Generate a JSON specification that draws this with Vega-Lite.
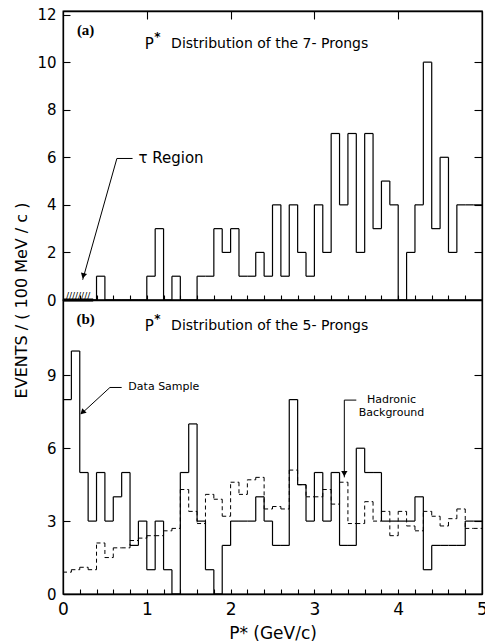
{
  "$schema": "https://vega.github.io/schema/vega-lite/v6.json",
  "padding": {"left": 12, "top": 6, "right": 4, "bottom": 0},
  "background": "white",
  "spacing": 0,
  "bounds": "flush",
  "config": {
    "view": {"stroke": "black", "strokeWidth": 1.3},
    "font": "DejaVu Sans",
    "axis": {"domainColor": "black", "tickColor": "black", "labelColor": "black", "titleColor": "black", "grid": false, "labelFont": "DejaVu Sans", "titleFont": "DejaVu Sans", "titleFontWeight": "normal", "domainWidth": 1.3, "tickWidth": 1.1},
    "rule": {"color": "black", "strokeWidth": 1.2},
    "text": {"color": "black", "font": "DejaVu Sans"}
  },
  "datasets": {
    "bins": [
      {"lo": 0.0, "hi": 0.1, "a": 0, "d": 8, "h": 0.9},
      {"lo": 0.1, "hi": 0.2, "a": 0, "d": 10, "h": 1.0},
      {"lo": 0.2, "hi": 0.3, "a": 0, "d": 5, "h": 1.1},
      {"lo": 0.3, "hi": 0.4, "a": 0, "d": 3, "h": 1.0},
      {"lo": 0.4, "hi": 0.5, "a": 1, "d": 5, "h": 2.1},
      {"lo": 0.5, "hi": 0.6, "a": 0, "d": 3, "h": 1.5},
      {"lo": 0.6, "hi": 0.7, "a": 0, "d": 4, "h": 1.9},
      {"lo": 0.7, "hi": 0.8, "a": 0, "d": 5, "h": 1.9},
      {"lo": 0.8, "hi": 0.9, "a": 0, "d": 2, "h": 2.2},
      {"lo": 0.9, "hi": 1.0, "a": 0, "d": 3, "h": 2.3},
      {"lo": 1.0, "hi": 1.1, "a": 1, "d": 1, "h": 2.4},
      {"lo": 1.1, "hi": 1.2, "a": 3, "d": 3, "h": 2.4},
      {"lo": 1.2, "hi": 1.3, "a": 0, "d": 1, "h": 2.6},
      {"lo": 1.3, "hi": 1.4, "a": 1, "d": 0, "h": 2.7},
      {"lo": 1.4, "hi": 1.5, "a": 0, "d": 5, "h": 4.3},
      {"lo": 1.5, "hi": 1.6, "a": 0, "d": 7, "h": 3.4},
      {"lo": 1.6, "hi": 1.7, "a": 1, "d": 3, "h": 2.9},
      {"lo": 1.7, "hi": 1.8, "a": 1, "d": 1, "h": 4.1},
      {"lo": 1.8, "hi": 1.9, "a": 3, "d": 0, "h": 3.9},
      {"lo": 1.9, "hi": 2.0, "a": 2, "d": 2, "h": 3.2},
      {"lo": 2.0, "hi": 2.1, "a": 3, "d": 3, "h": 4.6},
      {"lo": 2.1, "hi": 2.2, "a": 1, "d": 3, "h": 4.1},
      {"lo": 2.2, "hi": 2.3, "a": 1, "d": 3, "h": 4.7},
      {"lo": 2.3, "hi": 2.4, "a": 2, "d": 4, "h": 4.8},
      {"lo": 2.4, "hi": 2.5, "a": 1, "d": 3, "h": 3.5},
      {"lo": 2.5, "hi": 2.6, "a": 4, "d": 2, "h": 3.6},
      {"lo": 2.6, "hi": 2.7, "a": 1, "d": 2, "h": 3.5},
      {"lo": 2.7, "hi": 2.8, "a": 4, "d": 8, "h": 5.1},
      {"lo": 2.8, "hi": 2.9, "a": 2, "d": 4.5, "h": 4.5},
      {"lo": 2.9, "hi": 3.0, "a": 1, "d": 3, "h": 4.0},
      {"lo": 3.0, "hi": 3.1, "a": 4, "d": 5, "h": 4.0},
      {"lo": 3.1, "hi": 3.2, "a": 2, "d": 3, "h": 4.3},
      {"lo": 3.2, "hi": 3.3, "a": 7, "d": 5, "h": 3.7},
      {"lo": 3.3, "hi": 3.4, "a": 4, "d": 2, "h": 4.6},
      {"lo": 3.4, "hi": 3.5, "a": 7, "d": 2, "h": 2.9},
      {"lo": 3.5, "hi": 3.6, "a": 2, "d": 6, "h": 2.9},
      {"lo": 3.6, "hi": 3.7, "a": 7, "d": 5, "h": 3.8},
      {"lo": 3.7, "hi": 3.8, "a": 3, "d": 5, "h": 3.0},
      {"lo": 3.8, "hi": 3.9, "a": 5, "d": 3, "h": 3.4},
      {"lo": 3.9, "hi": 4.0, "a": 4, "d": 3, "h": 2.4},
      {"lo": 4.0, "hi": 4.1, "a": 0, "d": 3, "h": 3.4},
      {"lo": 4.1, "hi": 4.2, "a": 2, "d": 3, "h": 2.8},
      {"lo": 4.2, "hi": 4.3, "a": 4, "d": 4, "h": 2.6},
      {"lo": 4.3, "hi": 4.4, "a": 10, "d": 1, "h": 3.4},
      {"lo": 4.4, "hi": 4.5, "a": 3, "d": 2, "h": 3.2},
      {"lo": 4.5, "hi": 4.6, "a": 6, "d": 2, "h": 2.8},
      {"lo": 4.6, "hi": 4.7, "a": 2, "d": 2, "h": 3.1},
      {"lo": 4.7, "hi": 4.8, "a": 4, "d": 2, "h": 3.5},
      {"lo": 4.8, "hi": 4.9, "a": 4, "d": 3, "h": 2.7},
      {"lo": 4.9, "hi": 5.0, "a": 4, "d": 3, "h": 2.7}
    ]
  },
  "vconcat": [
    {
      "width": 419,
      "height": 289,
      "data": {"name": "bins"},
      "transform": [{"window": [{"op": "lead", "field": "a", "as": "an"}], "sort": [{"field": "lo"}]}],
      "resolve": {"axis": {"x": "independent", "y": "independent"}},
      "layer": [
        {
          "mark": {"type": "rule", "strokeWidth": 1.2},
          "encoding": {
            "x": {"field": "lo", "type": "quantitative", "scale": {"domain": [0, 5], "nice": false},
              "axis": {"orient": "bottom", "values": [0.2,0.4,0.6,0.8,1,1.2,1.4,1.6,1.8,2,2.2,2.4,2.6,2.8,3,3.2,3.4,3.6,3.8,4,4.2,4.4,4.6,4.8], "labels": false, "tickSize": -5, "title": null}},
            "x2": {"field": "hi"},
            "y": {"field": "a", "type": "quantitative", "scale": {"domain": [0, 12.15], "nice": false},
              "axis": {"orient": "left", "values": [0, 2, 4, 6, 8, 10, 12], "tickSize": -7, "labelPadding": 14, "labelFontSize": 15, "title": "EVENTS / ( 100 MeV / c )", "titleFontSize": 16, "titleX": -42, "titleY": 289, "titleAngle": 270, "titleAlign": "center", "titleBaseline": "middle"}}
          }
        },
        {
          "transform": [{"filter": "datum.an != null"}],
          "mark": {"type": "rule", "strokeWidth": 1.2},
          "encoding": {
            "x": {"field": "hi", "type": "quantitative", "axis": {"orient": "top", "values": [1, 2, 3, 4], "labels": false, "tickSize": -8, "title": null}},
            "y": {"field": "a", "type": "quantitative", "axis": {"orient": "right", "values": [2, 4, 6, 8, 10], "labels": false, "tickSize": -8, "title": null}},
            "y2": {"field": "an"}
          }
        },
        {
          "data": {"values": [{}]},
          "mark": {"type": "rule", "strokeWidth": 3},
          "encoding": {
            "x": {"datum": 0, "type": "quantitative", "axis": null},
            "x2": {"datum": 0.36},
            "y": {"datum": 0, "type": "quantitative", "axis": null}
          }
        },
        {
          "data": {"values": [{}]},
          "mark": {"type": "text", "text": "////////", "fontSize": 9, "baseline": "bottom", "align": "center", "dy": 1},
          "encoding": {
            "x": {"datum": 0.18, "type": "quantitative", "axis": null},
            "y": {"datum": 0, "type": "quantitative", "axis": null}
          }
        },
        {
          "data": {"values": [{}]},
          "mark": {"type": "text", "text": "(a)", "font": "Liberation Serif", "fontWeight": "bold", "fontSize": 15, "align": "center", "baseline": "middle"},
          "encoding": {
            "x": {"datum": 0.27, "type": "quantitative", "axis": null},
            "y": {"datum": 11.35, "type": "quantitative", "axis": null}
          }
        },
        {
          "data": {"values": [{}]},
          "mark": {"type": "text", "text": "P", "fontSize": 15, "align": "left", "baseline": "middle"},
          "encoding": {
            "x": {"datum": 0.976, "type": "quantitative", "axis": null},
            "y": {"datum": 10.76, "type": "quantitative", "axis": null}
          }
        },
        {
          "data": {"values": [{}]},
          "mark": {"type": "text", "text": "*", "fontSize": 12, "fontWeight": "bold", "align": "left", "baseline": "middle", "dy": -7},
          "encoding": {
            "x": {"datum": 1.09, "type": "quantitative", "axis": null},
            "y": {"datum": 10.76, "type": "quantitative", "axis": null}
          }
        },
        {
          "data": {"values": [{}]},
          "mark": {"type": "text", "text": "Distribution of the 7- Prongs", "fontSize": 14, "align": "left", "baseline": "middle"},
          "encoding": {
            "x": {"datum": 1.29, "type": "quantitative", "axis": null},
            "y": {"datum": 10.76, "type": "quantitative", "axis": null}
          }
        },
        {
          "data": {"values": [{}]},
          "mark": {"type": "text", "text": "τ Region", "fontSize": 15, "align": "left", "baseline": "middle"},
          "encoding": {
            "x": {"datum": 0.9, "type": "quantitative", "axis": null},
            "y": {"datum": 5.95, "type": "quantitative", "axis": null}
          }
        },
        {
          "data": {"values": [{}]},
          "mark": {"type": "rule", "strokeWidth": 1},
          "encoding": {
            "x": {"datum": 0.643, "type": "quantitative", "axis": null},
            "x2": {"datum": 0.83},
            "y": {"datum": 5.95, "type": "quantitative", "axis": null}
          }
        },
        {
          "data": {"values": [{}]},
          "mark": {"type": "rule", "strokeWidth": 1},
          "encoding": {
            "x": {"datum": 0.643, "type": "quantitative", "axis": null},
            "x2": {"datum": 0.235},
            "y": {"datum": 5.95, "type": "quantitative", "axis": null},
            "y2": {"datum": 0.85}
          }
        },
        {
          "data": {"values": [{}]},
          "mark": {"type": "point", "shape": "triangle", "filled": true, "color": "black", "size": 40, "opacity": 1, "angle": 195},
          "encoding": {
            "x": {"datum": 0.245, "type": "quantitative", "axis": null},
            "y": {"datum": 1.05, "type": "quantitative", "axis": null}
          }
        }
      ]
    },
    {
      "width": 419,
      "height": 294,
      "data": {"name": "bins"},
      "transform": [
        {"window": [{"op": "lead", "field": "d", "as": "dn"}, {"op": "lead", "field": "h", "as": "hn"}], "sort": [{"field": "lo"}]}
      ],
      "resolve": {"axis": {"x": "independent", "y": "independent"}},
      "layer": [
        {
          "mark": {"type": "rule", "strokeWidth": 1.2},
          "encoding": {
            "x": {"field": "lo", "type": "quantitative", "scale": {"domain": [0, 5], "nice": false},
              "axis": {"orient": "bottom", "values": [0,0.2,0.4,0.6,0.8,1,1.2,1.4,1.6,1.8,2,2.2,2.4,2.6,2.8,3,3.2,3.4,3.6,3.8,4,4.2,4.4,4.6,4.8,5], "labelExpr": "datum.value == round(datum.value) ? format(datum.value, 'd') : ''", "tickSize": -5, "labelPadding": 12, "labelFontSize": 17, "labelFlush": false, "labelOverlap": false, "title": "P* (GeV/c)", "titleFontSize": 17, "titleY": 44, "titleBaseline": "alphabetic"}},
            "x2": {"field": "hi"},
            "y": {"field": "d", "type": "quantitative", "scale": {"domain": [0, 12.1], "nice": false},
              "axis": {"orient": "left", "values": [0, 3, 6, 9], "tickSize": -7, "labelPadding": 14, "labelFontSize": 15, "title": null}}
          }
        },
        {
          "transform": [{"filter": "datum.dn != null"}],
          "mark": {"type": "rule", "strokeWidth": 1.2},
          "encoding": {
            "x": {"field": "hi", "type": "quantitative", "axis": null},
            "y": {"field": "d", "type": "quantitative", "axis": {"orient": "right", "values": [3, 6, 9], "labels": false, "tickSize": -8, "title": null}},
            "y2": {"field": "dn"}
          }
        },
        {
          "mark": {"type": "rule", "strokeWidth": 1, "strokeDash": [4, 3]},
          "encoding": {
            "x": {"field": "lo", "type": "quantitative", "axis": null},
            "x2": {"field": "hi"},
            "y": {"field": "h", "type": "quantitative", "axis": null}
          }
        },
        {
          "transform": [{"filter": "datum.hn != null"}],
          "mark": {"type": "rule", "strokeWidth": 1, "strokeDash": [4, 3]},
          "encoding": {
            "x": {"field": "hi", "type": "quantitative", "axis": null},
            "y": {"field": "h", "type": "quantitative", "axis": null},
            "y2": {"field": "hn"}
          }
        },
        {
          "data": {"values": [{}]},
          "mark": {"type": "text", "text": "(b)", "font": "Liberation Serif", "fontWeight": "bold", "fontSize": 15, "align": "center", "baseline": "middle"},
          "encoding": {
            "x": {"datum": 0.27, "type": "quantitative", "axis": null},
            "y": {"datum": 11.3, "type": "quantitative", "axis": null}
          }
        },
        {
          "data": {"values": [{}]},
          "mark": {"type": "text", "text": "P", "fontSize": 15, "align": "left", "baseline": "middle"},
          "encoding": {
            "x": {"datum": 0.976, "type": "quantitative", "axis": null},
            "y": {"datum": 11.05, "type": "quantitative", "axis": null}
          }
        },
        {
          "data": {"values": [{}]},
          "mark": {"type": "text", "text": "*", "fontSize": 12, "fontWeight": "bold", "align": "left", "baseline": "middle", "dy": -7},
          "encoding": {
            "x": {"datum": 1.09, "type": "quantitative", "axis": null},
            "y": {"datum": 11.05, "type": "quantitative", "axis": null}
          }
        },
        {
          "data": {"values": [{}]},
          "mark": {"type": "text", "text": "Distribution of the 5- Prongs", "fontSize": 14, "align": "left", "baseline": "middle"},
          "encoding": {
            "x": {"datum": 1.29, "type": "quantitative", "axis": null},
            "y": {"datum": 11.05, "type": "quantitative", "axis": null}
          }
        },
        {
          "data": {"values": [{}]},
          "mark": {"type": "text", "text": "Data  Sample", "fontSize": 11, "align": "left", "baseline": "middle"},
          "encoding": {
            "x": {"datum": 0.78, "type": "quantitative", "axis": null},
            "y": {"datum": 8.5, "type": "quantitative", "axis": null}
          }
        },
        {
          "data": {"values": [{}]},
          "mark": {"type": "text", "text": "Hadronic", "fontSize": 11, "align": "center", "baseline": "middle"},
          "encoding": {
            "x": {"datum": 3.92, "type": "quantitative", "axis": null},
            "y": {"datum": 7.98, "type": "quantitative", "axis": null}
          }
        },
        {
          "data": {"values": [{}]},
          "mark": {"type": "text", "text": "Background", "fontSize": 11, "align": "center", "baseline": "middle"},
          "encoding": {
            "x": {"datum": 3.92, "type": "quantitative", "axis": null},
            "y": {"datum": 7.45, "type": "quantitative", "axis": null}
          }
        },
        {
          "data": {"values": [{}]},
          "mark": {"type": "rule", "strokeWidth": 1},
          "encoding": {
            "x": {"datum": 0.56, "type": "quantitative", "axis": null},
            "x2": {"datum": 0.7},
            "y": {"datum": 8.5, "type": "quantitative", "axis": null}
          }
        },
        {
          "data": {"values": [{}]},
          "mark": {"type": "rule", "strokeWidth": 1},
          "encoding": {
            "x": {"datum": 0.56, "type": "quantitative", "axis": null},
            "x2": {"datum": 0.22},
            "y": {"datum": 8.5, "type": "quantitative", "axis": null},
            "y2": {"datum": 7.42}
          }
        },
        {
          "data": {"values": [{}]},
          "mark": {"type": "point", "shape": "triangle", "filled": true, "color": "black", "size": 40, "opacity": 1, "angle": 227},
          "encoding": {
            "x": {"datum": 0.24, "type": "quantitative", "axis": null},
            "y": {"datum": 7.5, "type": "quantitative", "axis": null}
          }
        },
        {
          "data": {"values": [{}]},
          "mark": {"type": "rule", "strokeWidth": 1},
          "encoding": {
            "x": {"datum": 3.357, "type": "quantitative", "axis": null},
            "x2": {"datum": 3.5},
            "y": {"datum": 7.98, "type": "quantitative", "axis": null}
          }
        },
        {
          "data": {"values": [{}]},
          "mark": {"type": "rule", "strokeWidth": 1},
          "encoding": {
            "x": {"datum": 3.357, "type": "quantitative", "axis": null},
            "y": {"datum": 7.98, "type": "quantitative", "axis": null},
            "y2": {"datum": 4.8}
          }
        },
        {
          "data": {"values": [{}]},
          "mark": {"type": "point", "shape": "triangle-down", "filled": true, "color": "black", "size": 40, "opacity": 1},
          "encoding": {
            "x": {"datum": 3.357, "type": "quantitative", "axis": null},
            "y": {"datum": 4.95, "type": "quantitative", "axis": null}
          }
        }
      ]
    }
  ]
}
